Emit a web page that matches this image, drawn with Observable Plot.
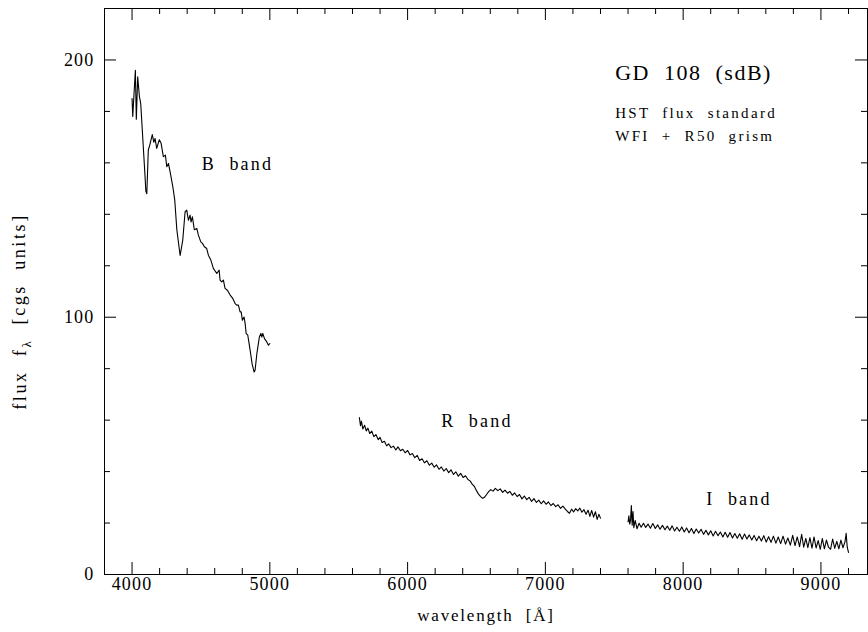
<!DOCTYPE html>
<html>
<head>
<meta charset="utf-8">
<script src="https://cdn.jsdelivr.net/npm/d3@7"></script>
<script src="https://cdn.jsdelivr.net/npm/@observablehq/plot@0.6"></script>
<style>
  html, body { margin: 0; padding: 0; background: #fff; }
  svg text { white-space: pre; }
</style>
</head>
<body>
<div id="chart"></div>
<script>
// ---- data: [wavelength (Å), flux] ----
const bBand = [
  [4000,185],[4005,178],[4024,196],[4031,177],[4041,193.5],[4053,186],[4063,183],
  [4094,155],[4100,149],[4107,148],[4118,165],[4129,167],[4138,169],[4147,171],
  [4158,168],[4167,169.5],[4179,165.6],[4198,169],[4211,167.6],[4227,162.4],[4242,163],
  [4252,158.5],[4264,159.8],[4278,156],[4296,150.7],[4310,145.5],[4325,134],[4349,124],
  [4368,130],[4385,141],[4397,141.6],[4409,137.7],[4421,139.7],[4428,137],[4438,139],
  [4452,134],[4470,134.5],[4481,132],[4499,129.3],[4511,128.7],[4525,127.4],[4542,126.7],
  [4554,124.1],[4572,122.2],[4590,119],[4615,117],[4632,118.3],[4639,114.4],[4651,113.7],
  [4663,114.4],[4675,111.2],[4692,110.5],[4712,108.6],[4731,107.3],[4748,105.3],[4760,104.7],
  [4772,104.7],[4784,102.1],[4792,102.1],[4801,98.8],[4813,100.1],[4821,97.5],[4828,93.7],
  [4840,93],[4857,87.2],[4871,82],[4886,78.7],[4893,79.4],[4906,85.9],[4913,88.4],
  [4924,92.3],[4935,93.7],[4942,92.3],[4949,93.7],[4961,91.7],[4978,90.4],[4990,89.1],[5000,89.8]
];
const rBand = [
  [5650,61.0],[5658,57.8],[5665,59.6],[5675,56.6],[5688,58.0],[5700,55.8],[5712,56.9],
  [5725,54.8],[5740,55.7],[5755,53.6],[5770,54.4],[5787,52.4],[5800,53.3],[5815,51.3],
  [5832,51.8],[5848,50.0],[5862,50.8],[5880,49.3],[5897,49.9],[5915,48.4],[5930,49.6],
  [5948,48.1],[5965,48.7],[5982,47.3],[6000,48.2],[6018,46.5],[6035,47.0],[6052,45.4],
  [6070,46.3],[6087,44.3],[6105,45.0],[6122,43.4],[6140,44.2],[6158,42.5],[6175,43.3],
  [6193,41.7],[6210,42.6],[6228,40.9],[6245,41.8],[6263,40.2],[6280,41.2],[6298,39.6],
  [6315,40.7],[6333,38.9],[6350,39.9],[6368,38.2],[6385,39.3],[6403,37.7],[6420,38.4],
  [6438,36.9],[6455,36.3],[6470,35.0],[6485,34.2],[6500,32.6],[6515,31.2],[6530,30.3],
  [6545,29.6],[6558,30.0],[6572,31.0],[6587,32.1],[6603,33.0],[6620,32.4],[6637,33.5],
  [6655,32.6],[6672,33.3],[6690,31.9],[6707,32.8],[6725,31.6],[6742,32.3],[6760,30.8],
  [6777,31.7],[6795,30.3],[6812,31.1],[6830,29.4],[6847,30.5],[6865,29.1],[6882,30.0],
  [6900,28.4],[6917,29.5],[6935,28.0],[6952,28.9],[6970,27.5],[6987,28.6],[7005,27.3],
  [7022,28.2],[7040,26.8],[7057,27.6],[7075,26.4],[7092,27.1],[7110,25.7],[7127,26.6],
  [7145,25.4],[7160,24.5],[7175,23.8],[7190,25.4],[7205,24.3],[7220,25.6],[7235,24.7],
  [7250,25.8],[7265,24.2],[7280,25.2],[7295,23.4],[7310,25.0],[7323,22.6],[7336,24.9],
  [7350,22.3],[7363,24.4],[7376,21.4],[7388,23.4],[7400,21.9]
];
const iBand = [
  [7600,20.4],[7606,22.8],[7612,19.6],[7618,21.0],[7624,26.8],[7630,19.2],[7636,24.5],
  [7642,18.2],[7652,21.0],[7665,17.8],[7680,19.9],[7695,18.4],[7712,19.9],[7728,18.3],
  [7745,19.6],[7762,18.0],[7780,19.8],[7798,17.9],[7815,19.3],[7832,17.6],[7850,19.1],
  [7868,17.4],[7885,18.8],[7903,17.2],[7920,18.9],[7938,16.9],[7955,18.4],[7973,16.8],
  [7990,18.5],[8008,16.5],[8025,18.1],[8043,16.2],[8060,17.9],[8078,15.9],[8095,17.7],
  [8113,16.1],[8130,17.6],[8148,15.6],[8165,17.2],[8183,15.4],[8200,17.0],[8218,15.0],
  [8235,16.8],[8253,15.1],[8270,16.5],[8288,14.6],[8305,16.4],[8323,14.5],[8340,16.3],
  [8358,14.2],[8375,15.9],[8393,14.1],[8410,15.8],[8428,13.7],[8445,15.7],[8463,13.8],
  [8480,15.4],[8498,13.4],[8515,15.2],[8533,13.1],[8550,14.9],[8568,13.0],[8585,15.1],
  [8603,12.6],[8620,14.7],[8638,12.5],[8655,14.9],[8673,12.2],[8690,14.6],[8708,12.0],
  [8725,14.9],[8743,11.8],[8760,14.2],[8778,11.4],[8795,15.2],[8812,11.2],[8828,14.6],
  [8845,10.8],[8860,15.6],[8875,10.6],[8890,14.0],[8905,10.4],[8920,14.3],[8935,10.2],
  [8950,14.6],[8965,10.3],[8980,13.2],[8995,9.8],[9010,14.0],[9025,10.0],[9040,13.4],
  [9055,10.6],[9070,9.8],[9085,13.8],[9100,10.2],[9115,12.9],[9130,10.0],[9145,13.4],
  [9160,10.4],[9175,12.8],[9183,16.0],[9191,10.6],[9200,8.6]
];
const xMajor = [4000, 5000, 6000, 7000, 8000, 9000];
const xMinor = [3800,4200,4400,4600,4800,5200,5400,5600,5800,6200,6400,6600,6800,
                7200,7400,7600,7800,8200,8400,8600,8800,9200];
const yMajor = [0, 100, 200];
const yMinor = [20,40,60,80,120,140,160,180,220];
const bandLabels = ["B  band", "R  band", "I  band"];
const bandLabelX = [4506, 6244, 8168];
const bandLabelY = [159.3, 59.4, 29.3];
const titleText = "GD  108  (sdB)";
const noteLines = ["HST  flux  standard", "WFI  +  R50  grism"];
const xTitle = "wavelength  [Å]";
const yTitle = "flux  fλ  [cgs  units]";

const FONT = "Liberation Serif, DejaVu Serif, serif";
const W = 868, H = 632, ML = 104, MR = 1, MT = 8, MB = 58;
const FH = H - MT - MB, FW = W - ML - MR;
const MAJ = 12, MIN = 6;

const bandTable = bandLabels.map((t, i) => ({t, x: bandLabelX[i], y: bandLabelY[i]}));

const plot = Plot.plot({
  width: W, height: H,
  marginLeft: ML, marginRight: MR, marginTop: MT, marginBottom: MB,
  x: {domain: [3800, 9338]},
  y: {domain: [0, 220]},
  style: {fontFamily: FONT, background: "#fff", color: "#000", overflow: "visible"},
  marks: [
    Plot.frame({stroke: "#000", strokeWidth: 1}),
    // inward ticks bottom/top
    Plot.tickX(xMajor, {x: d => d, insetTop: FH - MAJ, stroke: "#000"}),
    Plot.tickX(xMinor, {x: d => d, insetTop: FH - MIN, stroke: "#000"}),
    Plot.tickX(xMajor, {x: d => d, insetBottom: FH - MAJ, stroke: "#000"}),
    Plot.tickX(xMinor, {x: d => d, insetBottom: FH - MIN, stroke: "#000"}),
    // inward ticks left/right
    Plot.tickY(yMajor, {y: d => d, insetRight: FW - MAJ, stroke: "#000"}),
    Plot.tickY(yMinor, {y: d => d, insetRight: FW - MIN, stroke: "#000"}),
    Plot.tickY(yMajor, {y: d => d, insetLeft: FW - MAJ, stroke: "#000"}),
    Plot.tickY(yMinor, {y: d => d, insetLeft: FW - MIN, stroke: "#000"}),
    // tick labels
    Plot.axisX(xMajor, {tickSize: 0, tickPadding: 3, fontSize: 18, label: null,
      tickFormat: d => String(d)}),
    Plot.axisY(yMajor, {tickSize: 0, tickPadding: 10, fontSize: 18, label: null,
      tickFormat: d => String(d)}),
    // spectra
    Plot.line(bBand, {x: d => d[0], y: d => d[1], stroke: "#000", strokeWidth: 1.1}),
    Plot.line(rBand, {x: d => d[0], y: d => d[1], stroke: "#000", strokeWidth: 1.1}),
    Plot.line(iBand, {x: d => d[0], y: d => d[1], stroke: "#000", strokeWidth: 1.1}),
    // annotations
    Plot.text(bandTable, {x: "x", y: "y", text: "t", textAnchor: "start", fontSize: 18, fill: "#000"}),
    Plot.text([titleText], {x: 7507, y: 194.9, text: d => d, textAnchor: "start", fontSize: 22, fill: "#000"}),
    Plot.text([noteLines[0]], {x: 7507, y: 179.2, text: d => d, textAnchor: "start", fontSize: 15, fill: "#000"}),
    Plot.text([noteLines[1]], {x: 7507, y: 170.5, text: d => d, textAnchor: "start", fontSize: 15, fill: "#000"}),
    // axis titles
    Plot.text([xTitle], {frameAnchor: "bottom", dy: 46, text: d => d, fontSize: 17, fill: "#000"}),
    Plot.text([yTitle], {frameAnchor: "left", textAnchor: "middle", dx: -84, dy: 20, rotate: -90,
      text: d => d, fontSize: 18, fill: "#000"})
  ]
});

// letter spacing for text, subscript λ in y title
const svg = d3.select(plot);
svg.selectAll("text").each(function() {
  const el = d3.select(this);
  const t = this.textContent;
  if (bandLabels.includes(t)) el.style("letter-spacing", "2.2px");
  if (t === titleText) el.style("letter-spacing", "1.5px");
  if (noteLines.includes(t)) el.style("letter-spacing", "2.3px");
  if (t === xTitle) el.style("letter-spacing", "1.8px");
  if (/^\d+$/.test(t)) el.style("letter-spacing", "1.2px");
  if (t === yTitle) {
    el.style("letter-spacing", "2.6px");
    el.text(null);
    el.append("tspan").text("flux  f");
    el.append("tspan").text("λ").attr("font-size", 13).attr("dy", "0.35em");
    el.append("tspan").text("  [cgs  units]").attr("dy", "-0.35em");
  }
});
document.getElementById("chart").appendChild(plot);
</script>
</body>
</html>
